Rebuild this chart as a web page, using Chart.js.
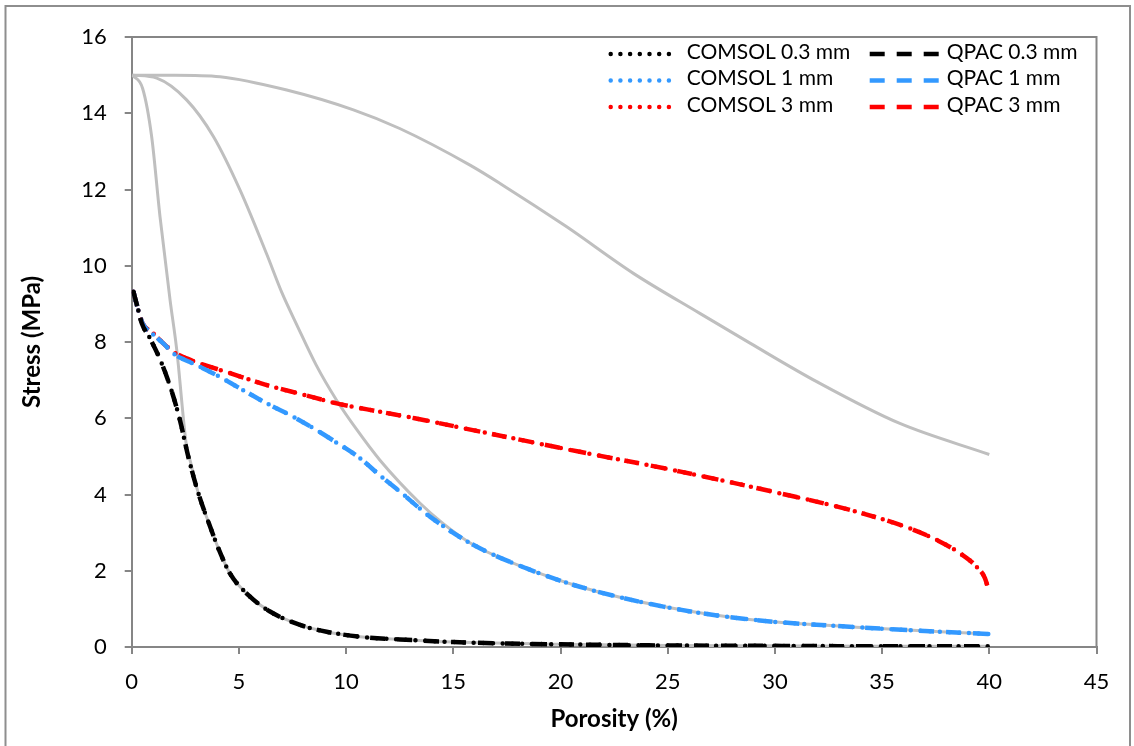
<!DOCTYPE html>
<html>
<head>
<meta charset="utf-8">
<title>Stress vs porosity</title>
<script src="https://cdn.jsdelivr.net/npm/chart.js@4/dist/chart.umd.min.js"></script>
<style>
  html, body { margin: 0; padding: 0; background: #fff; }
  #wrap { width: 1134px; height: 746px; }
</style>
</head>
<body>
<div id="wrap"><canvas id="stressChart" width="1134" height="746"></canvas></div>
<script>
// values
const xTicks = [0, 5, 10, 15, 20, 25, 30, 35, 40, 45];
const yTicks = [0, 2, 4, 6, 8, 10, 12, 14, 16];

const labels03 = ['COMSOL 0.3 mm', 'QPAC 0.3 mm'];
const labels1 = ['COMSOL 1 mm', 'QPAC 1 mm'];
const labels3 = ['COMSOL 3 mm', 'QPAC 3 mm'];

// 0.3 mm (black)
const por03 = [0.08, 0.3, 0.47, 0.85, 1.4, 1.87, 2.25, 2.64, 3.11, 3.57, 4.04, 4.58, 5.52, 6.45, 7.85, 9.09, 10.65, 13.1, 15, 17.5, 20, 25, 30, 35, 40];
const str03 = [9.32, 8.85, 8.49, 8.1, 7.44, 6.7, 5.95, 4.99, 4.03, 3.29, 2.59, 1.93, 1.32, 0.93, 0.58, 0.40, 0.27, 0.18, 0.13, 0.09, 0.07, 0.04, 0.03, 0.02, 0.02];

// 1 mm (blue)
const por1 = [0.08, 0.3, 0.5, 1.0, 1.5, 1.94, 3.0, 3.96, 5.0, 6.3, 7.5, 8.47, 9.5, 10.65, 11.58, 12.5, 13.91, 15.93, 18.42, 20.9, 24.8, 28.7, 33.8, 37, 40];
const str1 = [9.32, 8.85, 8.5, 8.2, 7.95, 7.7, 7.4, 7.13, 6.8, 6.39, 6.05, 5.74, 5.38, 4.95, 4.5, 4.08, 3.42, 2.68, 2.06, 1.58, 1.06, 0.73, 0.52, 0.42, 0.34];

// 3 mm (red)
const por3 = [0.08, 0.3, 0.5, 1.0, 1.5, 2.0, 3.19, 4.5, 6.3, 8.0, 9.56, 11.58, 13.2, 16.25, 20.9, 25.6, 30.25, 33.8, 36.3, 37.54, 38.63, 39.4, 39.8, 40];
const str3 = [9.32, 8.85, 8.5, 8.23, 7.95, 7.72, 7.44, 7.2, 6.87, 6.62, 6.39, 6.17, 6.0, 5.65, 5.12, 4.6, 4.03, 3.55, 3.11, 2.81, 2.46, 2.11, 1.8, 1.42];

// grey reference curves (no legend entry)
const porGreyA = [0.03, 0.51, 0.93, 1.32, 1.79, 2.1, 2.56, 2.72, 3.11, 3.57, 4.04, 4.58, 5.52, 6.45, 7.85, 9.09, 10.65, 13.1, 15, 20, 25, 30, 35, 40];
const strGreyA = [15.0, 14.65, 13.39, 11.29, 9.1, 7.8, 5.25, 4.9, 4.03, 3.29, 2.59, 1.93, 1.32, 0.93, 0.58, 0.40, 0.27, 0.18, 0.13, 0.07, 0.04, 0.03, 0.02, 0.02];
const porGreyB = [0.03, 1.17, 2.56, 3.81, 5.05, 6.3, 7.0, 7.7, 8.6, 9.55, 10.5, 11.58, 13.45, 14.5, 15.93, 18.42, 20.9, 24.8, 28.7, 33.8, 37, 40];
const strGreyB = [15.0, 14.92, 14.35, 13.39, 11.99, 10.3, 9.3, 8.45, 7.4, 6.48, 5.7, 4.9, 3.77, 3.25, 2.68, 2.06, 1.58, 1.06, 0.73, 0.52, 0.42, 0.34];
const porGreyC = [0.03, 2, 4.12, 7.23, 10.34, 12.5, 15.78, 17.18, 20.29, 23.4, 26.5, 28.84, 31.95, 35.8, 40];
const strGreyC = [15.0, 15.0, 14.96, 14.61, 14.09, 13.6, 12.64, 12.16, 11.02, 9.8, 8.75, 7.97, 6.96, 5.87, 5.05];

const BLACK = '#000000', BLUE = '#3399ff', RED = '#ff0000', GREY = '#bfbfbf';
const AXIS = '#868686';
const FONT = 'Lato, Carlito, Calibri, "Open Sans", sans-serif';

const pts = (xs, ys) => xs.map((x, i) => ({ x: x, y: ys[i] }));

const dotted = (label, color, xs, ys) => ({
    label, data: pts(xs, ys), borderColor: color, backgroundColor: color,
    borderWidth: 4.5, borderDash: [0, 9.7], borderCapStyle: 'round', legendKind: 'dot'
});
const dashed = (label, color, xs, ys) => ({
    label, data: pts(xs, ys), borderColor: color, backgroundColor: color,
    borderWidth: 4.5, borderDash: [15, 12], borderCapStyle: 'butt', legendKind: 'dash'
});
const grey = (xs, ys) => ({
    label: '', data: pts(xs, ys), borderColor: GREY, borderWidth: 3, legendKind: null
});

// outer frame, plot box and the legend drawn by hand (Excel look)
const framePlugin = {
    id: 'frame',
    beforeDraw(chart) {
        const c = chart.ctx;
        c.save();
        c.fillStyle = '#fff';
        c.fillRect(0, 0, chart.width, chart.height);
        c.strokeStyle = '#8e8e8e';
        c.lineWidth = 2;
        c.strokeRect(5.5, 6, 1124.5, 800);
        c.restore();
    },
    afterDraw(chart) {
        const c = chart.ctx, a = chart.chartArea;
        c.save();
        c.strokeStyle = AXIS;
        c.lineWidth = 2;
        c.beginPath();
        c.moveTo(a.left, a.top);
        c.lineTo(a.right, a.top);
        c.lineTo(a.right, a.bottom);
        c.stroke();

        // legend, two columns
        const items = chart.data.datasets.filter(d => d.legendKind);
        const colLine = [[a.left + 479, a.left + 540], [a.left + 738, a.left + 809]];
        const colText = [a.left + 555, a.left + 815];
        c.font = '21px ' + FONT;
        c.textBaseline = 'middle';
        c.fillStyle = '#000';
        items.forEach((d, i) => {
            const col = i % 2, row = Math.floor(i / 2);
            const ly = a.top + 17 + row * 26.5;
            c.strokeStyle = d.borderColor;
            c.lineWidth = d.borderWidth;
            c.lineCap = d.borderCapStyle;
            c.setLineDash(d.borderDash);
            c.beginPath();
            c.moveTo(colLine[col][0], ly);
            c.lineTo(colLine[col][1], ly);
            c.stroke();
            c.setLineDash([]);
            c.fillText(d.label, colText[col], ly - 2);
        });
        c.restore();
    }
};

const ctx = document.getElementById('stressChart').getContext('2d');
new Chart(ctx, {
    type: 'line',
    data: {
        datasets: [
            dotted(labels03[0], BLACK, por03, str03),
            dashed(labels03[1], BLACK, por03, str03),
            dotted(labels1[0], BLUE, por1, str1),
            dashed(labels1[1], BLUE, por1, str1),
            dotted(labels3[0], RED, por3, str3),
            dashed(labels3[1], RED, por3, str3),
            grey(porGreyA, strGreyA),
            grey(porGreyB, strGreyB),
            grey(porGreyC, strGreyC)
        ]
    },
    options: {
        responsive: false,
        devicePixelRatio: 1,
        animation: false,
        layout: { padding: { left: 0, top: 37, right: 37.5, bottom: 0 } },
        elements: {
            point: { radius: 0, hoverRadius: 0 },
            line: { cubicInterpolationMode: 'monotone', fill: false }
        },
        plugins: { legend: { display: false }, tooltip: { enabled: false } },
        scales: {
            x: {
                type: 'linear', min: 0, max: 45,
                afterBuildTicks: s => { s.ticks = xTicks.map(v => ({ value: v })); },
                afterFit: s => { s.height = 99; },
                ticks: { color: '#000', font: { family: FONT, size: 22 }, padding: 15, maxRotation: 0 },
                grid: { drawOnChartArea: false, drawTicks: true, tickLength: 7, color: AXIS, lineWidth: 2 },
                border: { color: AXIS, width: 2 },
                title: { display: true, text: 'Porosity (%)', color: '#000',
                         font: { family: FONT, size: 24, weight: 'bold' }, padding: { top: 0, bottom: 12 } }
            },
            y: {
                type: 'linear', min: 0, max: 16,
                afterBuildTicks: s => { s.ticks = yTicks.map(v => ({ value: v })); },
                afterFit: s => { s.width = 131.7; },
                ticks: { color: '#000', font: { family: FONT, size: 22 }, padding: 18 },
                grid: { drawOnChartArea: false, drawTicks: true, tickLength: 7, color: AXIS, lineWidth: 2 },
                border: { color: AXIS, width: 2 },
                title: { display: true, text: 'Stress (MPa)', color: '#000',
                         font: { family: FONT, size: 24, weight: 'bold' }, padding: { top: 18, bottom: 0 } }
            }
        }
    },
    plugins: [framePlugin]
});
</script>
</body>
</html>
